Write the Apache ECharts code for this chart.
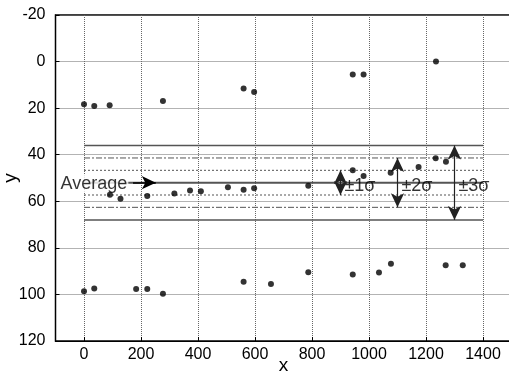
<!DOCTYPE html>
<html>
<head>
<meta charset="utf-8">
<script src="https://cdn.jsdelivr.net/npm/echarts@6/dist/echarts.min.js"></script>
<style>
  html, body { margin: 0; padding: 0; background: #fff; }
  #chart { width: 509px; height: 372px; }
</style>
</head>
<body>
<div id="chart"></div>
<script>
// measured points (x, y)
const xs = [0, 36, 90, 277, 560, 597, 943, 981, 1235,
            91, 128, 222, 317, 372, 410, 505, 560, 597, 787, 943, 981, 1076, 1174, 1234, 1270,
            0, 36, 183, 222, 277, 560, 656, 787, 943, 1035, 1077, 1269, 1329];
const ys = [18.3, 19.1, 18.8, 16.9, 11.6, 13.1, 5.5, 5.5, 0,
            57.2, 58.9, 57.7, 56.7, 55.4, 55.7, 54.0, 55.0, 54.4, 53.3, 46.7, 49.1, 47.7, 45.3, 41.5, 43.0,
            98.6, 97.5, 97.7, 97.7, 99.7, 94.6, 95.5, 90.5, 91.4, 90.6, 86.8, 87.5, 87.5];

const xTicks = [0, 200, 400, 600, 800, 1000, 1200, 1400];
const lineSpan = [0, 1400];
const average = 52;
const upperLevels = [46.7, 41.4, 36.0];   // -1s, -2s, -3s
const lowerLevels = [57.3, 62.6, 68.0];   // +1s, +2s, +3s
const arrowX = [900, 1100, 1300];
const sigmaLabels = ['\u00b11\u03c3', '\u00b12\u03c3', '\u00b13\u03c3'];
const sigmaLabelX = [968, 1168, 1368];
const averageLabel = 'Average';

const font = '"Liberation Sans", Arial, Helvetica, sans-serif';
const lineColor = '#555';
const levelStyles = [
  { type: [2, 2], width: 1 },
  { type: [6, 2, 2, 2], width: 1 },
  { type: 'solid', width: 1.5 }
];

const chart = echarts.init(document.getElementById('chart'));

const series = [];

series.push({
  type: 'line', data: lineSpan.map(x => [x, average]), symbol: 'none', silent: true,
  lineStyle: { color: lineColor, width: 2 }, z: 2
});
for (let i = 0; i < 3; i++) {
  [upperLevels[i], lowerLevels[i]].forEach(v => {
    series.push({
      type: 'line', data: lineSpan.map(x => [x, v]), symbol: 'none', silent: true,
      lineStyle: { color: lineColor, width: levelStyles[i].width, type: levelStyles[i].type }, z: 2
    });
  });
}

// double arrows + sigma labels
series.push({
  type: 'scatter', data: sigmaLabelX.map((x, i) => [x, average + 1.5, sigmaLabels[i]]),
  symbolSize: 0, silent: true, z: 4,
  label: {
    show: true, position: 'inside', formatter: p => p.data[2],
    color: '#000', textBorderWidth: 0, fontFamily: font, fontSize: 18
  },
  markLine: {
    silent: true, symbol: ['arrow', 'arrow'], symbolSize: [10, 14],
    lineStyle: { color: '#222', width: 1.2, type: 'solid' },
    label: { show: false },
    data: arrowX.map((x, i) => [{ coord: [x, upperLevels[i]] }, { coord: [x, lowerLevels[i]] }])
  }
});

// Average label with arrow
series.push({
  type: 'scatter', data: [[35, average + 0.5]], symbolSize: 0, silent: true, z: 5,
  label: {
    show: true, position: 'inside', formatter: averageLabel,
    color: '#000', textBorderWidth: 0, fontFamily: font, fontSize: 18,
    backgroundColor: '#fff', padding: [0, 1]
  },
  markLine: {
    silent: true, symbol: ['none', 'arrow'], symbolSize: [10, 14],
    lineStyle: { color: '#000', width: 1.5, type: 'solid' },
    label: { show: false },
    data: [[{ coord: [172, average] }, { coord: [252, average] }]]
  }
});

series.push({
  type: 'scatter', data: xs.map((x, i) => [x, ys[i]]),
  symbol: 'circle', symbolSize: 6, itemStyle: { color: '#000' }, z: 6
});

chart.setOption({
  animation: false,
  grid: {
    left: 55.5, right: -2.5, top: 15, bottom: 31, outerBoundsMode: 'none',
    show: true, borderColor: '#000', borderWidth: 1.5, backgroundColor: 'transparent'
  },
  xAxis: {
    type: 'value', min: -100, max: 1500,
    name: 'x', nameLocation: 'middle', nameGap: 15, nameMoveOverlap: false,
    nameTextStyle: { color: '#000', fontFamily: font, fontSize: 19 },
    axisLine: { show: true, onZero: false, lineStyle: { color: '#000', width: 1 } },
    axisTick: { show: true, inside: true, length: 4, customValues: xTicks, lineStyle: { color: '#000' } },
    axisLabel: { customValues: xTicks, formatter: v => String(v), color: '#000', fontFamily: font, fontSize: 16, margin: 6 },
    splitLine: { show: true, lineStyle: { color: '#666', type: [1, 1], width: 1 } }
  },
  yAxis: {
    type: 'value', inverse: true, min: -20, max: 120, interval: 20,
    name: 'y', nameLocation: 'middle', nameGap: 35, nameRotate: 90, nameMoveOverlap: false,
    nameTextStyle: { color: '#000', fontFamily: font, fontSize: 19 },
    axisLine: { show: true, onZero: false, lineStyle: { color: '#000', width: 1 } },
    axisTick: { show: true, inside: true, length: 4, lineStyle: { color: '#000' } },
    axisLabel: { color: '#000', fontFamily: font, fontSize: 16, margin: 10 },
    splitLine: { show: true, lineStyle: { color: '#666', type: [1, 1], width: 1 } }
  },
  series: series
});
</script>
</body>
</html>
